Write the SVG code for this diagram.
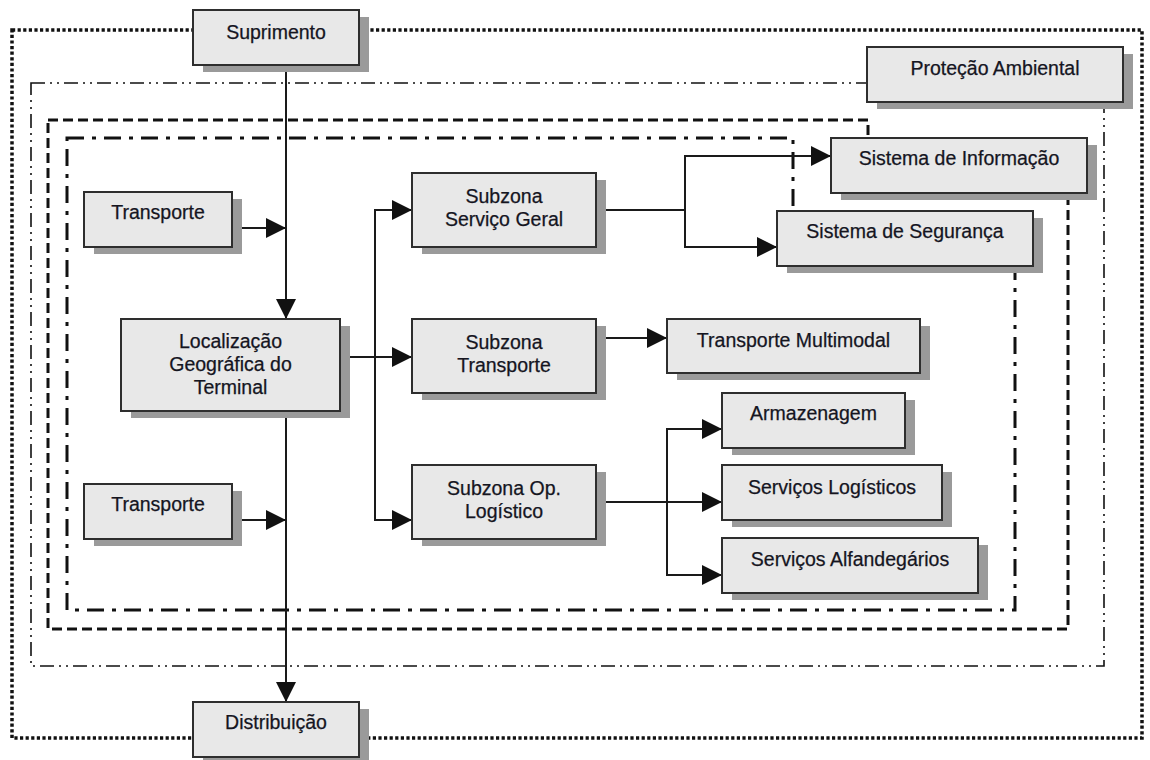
<svg xmlns="http://www.w3.org/2000/svg" width="1150" height="760" viewBox="0 0 1150 760">
<style>
.box{fill:#e8e8e8;stroke:#2e2e2e;stroke-width:2}
.sh{fill:#9a9a9a}
.t{font-family:"Liberation Sans",Arial,sans-serif;font-size:19.5px;fill:#15151f;stroke:#15151f;stroke-width:0.25;text-anchor:middle}
.c{fill:none;stroke:#1a1a1a;stroke-width:2}
.a{marker-end:url(#ah)}
</style>
<defs>
<marker id="ah" viewBox="0 0 20 20" refX="20" refY="10" markerWidth="20" markerHeight="20" markerUnits="userSpaceOnUse" orient="auto">
<path d="M0,0 L20,10 L0,20 z" fill="#111"/>
</marker>
</defs>
<rect width="1150" height="760" fill="#fff"/>
<g id="boundaries" fill="none" stroke="#111">
<rect x="12" y="30" width="1130" height="708" stroke-width="3.5" stroke-dasharray="3.2 2.4"/>
<rect x="31" y="83" width="1073" height="583" stroke-width="1.6" stroke-dasharray="14 5 2 5 2 5"/>
<path d="M48,120 H868 V165 H1068 V629 H48 Z" stroke-width="3" stroke-dasharray="10 5"/>
<path d="M67,138 H793 V235 H1015 V610 H67 Z" stroke-width="3" stroke-dasharray="17 8 4 8"/>
</g>
<g id="connectors">
<line class="c a" x1="286" y1="65" x2="286" y2="319"/>
<line class="c a" x1="232" y1="228" x2="286" y2="228"/>
<line class="c a" x1="286" y1="411" x2="286" y2="702"/>
<line class="c a" x1="232" y1="520" x2="286" y2="520"/>
<line class="c a" x1="340" y1="357" x2="412" y2="357"/>
<line class="c" x1="375" y1="210" x2="375" y2="520"/>
<line class="c a" x1="374" y1="210" x2="412" y2="210"/>
<line class="c a" x1="374" y1="520" x2="412" y2="520"/>
<line class="c" x1="596" y1="210" x2="685" y2="210"/>
<line class="c" x1="685" y1="156" x2="685" y2="247"/>
<line class="c a" x1="684" y1="156" x2="831" y2="156"/>
<line class="c a" x1="684" y1="247" x2="777" y2="247"/>
<line class="c a" x1="596" y1="338" x2="667" y2="338"/>
<line class="c" x1="596" y1="502" x2="667" y2="502"/>
<line class="c" x1="667" y1="429" x2="667" y2="575"/>
<line class="c a" x1="666" y1="429" x2="722" y2="429"/>
<line class="c a" x1="666" y1="502" x2="722" y2="502"/>
<line class="c a" x1="666" y1="575" x2="722" y2="575"/>
</g>
<g id="suprimento"><rect class="sh" x="203" y="17" width="166" height="55"/><rect class="box" x="193" y="10" width="166" height="55"/><text class="t" x="276" y="39">Suprimento</text></g>
<g id="protecao"><rect class="sh" x="877" y="54" width="256" height="55"/><rect class="box" x="867" y="47" width="256" height="55"/><text class="t" x="995" y="75">Proteção Ambiental</text></g>
<g id="sist-info"><rect class="sh" x="841" y="145" width="256" height="55"/><rect class="box" x="831" y="138" width="256" height="55"/><text class="t" x="959" y="165">Sistema de Informação</text></g>
<g id="sist-seg"><rect class="sh" x="787" y="218" width="256" height="55"/><rect class="box" x="777" y="211" width="256" height="55"/><text class="t" x="905" y="238">Sistema de Segurança</text></g>
<g id="transporte1"><rect class="sh" x="94" y="199" width="148" height="55"/><rect class="box" x="84" y="192" width="148" height="55"/><text class="t" x="158" y="219">Transporte</text></g>
<g id="localizacao"><rect class="sh" x="131" y="326" width="219" height="92"/><rect class="box" x="121" y="319" width="219" height="92"/><text class="t" x="230.5" y="348">Localização</text><text class="t" x="230.5" y="371">Geográfica do</text><text class="t" x="230.5" y="394">Terminal</text></g>
<g id="subzona-geral"><rect class="sh" x="422" y="180" width="184" height="74"/><rect class="box" x="412" y="173" width="184" height="74"/><text class="t" x="504" y="203">Subzona</text><text class="t" x="504" y="226">Serviço Geral</text></g>
<g id="subzona-transporte"><rect class="sh" x="422" y="326" width="184" height="74"/><rect class="box" x="412" y="319" width="184" height="74"/><text class="t" x="504" y="349">Subzona</text><text class="t" x="504" y="372">Transporte</text></g>
<g id="transporte-multimodal"><rect class="sh" x="677" y="326" width="253" height="54"/><rect class="box" x="667" y="319" width="253" height="54"/><text class="t" x="793.5" y="347">Transporte Multimodal</text></g>
<g id="subzona-op"><rect class="sh" x="422" y="472" width="184" height="74"/><rect class="box" x="412" y="465" width="184" height="74"/><text class="t" x="504" y="495">Subzona Op.</text><text class="t" x="504" y="518">Logístico</text></g>
<g id="transporte2"><rect class="sh" x="94" y="491" width="148" height="55"/><rect class="box" x="84" y="484" width="148" height="55"/><text class="t" x="158" y="511">Transporte</text></g>
<g id="armazenagem"><rect class="sh" x="732" y="400" width="183" height="55"/><rect class="box" x="722" y="393" width="183" height="55"/><text class="t" x="813.5" y="420">Armazenagem</text></g>
<g id="servicos-log"><rect class="sh" x="732" y="472" width="220" height="55"/><rect class="box" x="722" y="465" width="220" height="55"/><text class="t" x="832" y="494">Serviços Logísticos</text></g>
<g id="servicos-alf"><rect class="sh" x="732" y="545" width="256" height="55"/><rect class="box" x="722" y="538" width="256" height="55"/><text class="t" x="850" y="566">Serviços Alfandegários</text></g>
<g id="distribuicao"><rect class="sh" x="203" y="709" width="166" height="55"/><rect class="box" x="193" y="702" width="166" height="55"/><text class="t" x="276" y="729">Distribuição</text></g>
</svg>
